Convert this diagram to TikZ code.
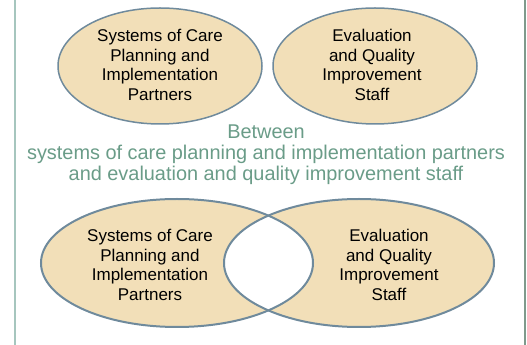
\documentclass[tikz,border=0pt]{standalone}
\usepackage{fontspec}
\setmainfont{Liberation Sans}
\usetikzlibrary{shapes.geometric}
\definecolor{ovfill}{HTML}{F2DFB8}
\definecolor{ovline}{HTML}{6F8A9C}
\definecolor{grtext}{HTML}{6A9C88}
\definecolor{frameL}{HTML}{A6C6BE}
\definecolor{frameR}{HTML}{7F9A8C}
\tikzset{
  oval/.style={ellipse, fill=ovfill, draw=ovline, line width=1.5pt, inner sep=0pt},
  ovtext/.style={align=center, font=\fontsize{17}{19.7}\selectfont, text=black},
  midtext/.style={align=center, font=\fontsize{19.9}{21}\selectfont, text=grtext}
}
\begin{document}
\begin{tikzpicture}[x=1pt,y=1pt]
\useasboundingbox (0,0) rectangle (527,345);
% frame
\draw[frameL, line width=2pt] (15,0) -- (15,345);
\draw[frameR, line width=2pt] (525,0) -- (525,345);
% top ovals
\node[oval, minimum width=204, minimum height=116] (tl) at (160,279) {};
\node[oval, minimum width=204, minimum height=116] (tr) at (375,279) {};
\node[ovtext] (tlt) at (160,280) {Systems of Care\\Planning and\\Implementation\\Partners};
\node[ovtext] (trt) at (372,280) {Evaluation\\and Quality\\Improvement\\Staff};
% middle text
\node[midtext] (mid) at (266,190) {Between\\systems of care planning and implementation partners\\and evaluation and quality improvement staff};
% bottom Venn
\fill[ovfill] (177,82) ellipse [x radius=136, y radius=64];
\fill[ovfill] (359,82) ellipse [x radius=135, y radius=64];
\begin{scope}
  \clip (177,82) ellipse [x radius=136, y radius=64];
  \fill[white] (359,82) ellipse [x radius=135, y radius=64];
\end{scope}
\node[ellipse, draw=ovline, line width=2pt, minimum width=272, minimum height=128, inner sep=0pt] (bl) at (177,82) {};
\node[ellipse, draw=ovline, line width=2pt, minimum width=270, minimum height=128, inner sep=0pt] (br) at (359,82) {};
\node[ovtext] (blt) at (150,80) {Systems of Care\\Planning and\\Implementation\\Partners};
\node[ovtext] (brt) at (389,80) {Evaluation\\and Quality\\Improvement\\Staff};
\end{tikzpicture}
\end{document}
